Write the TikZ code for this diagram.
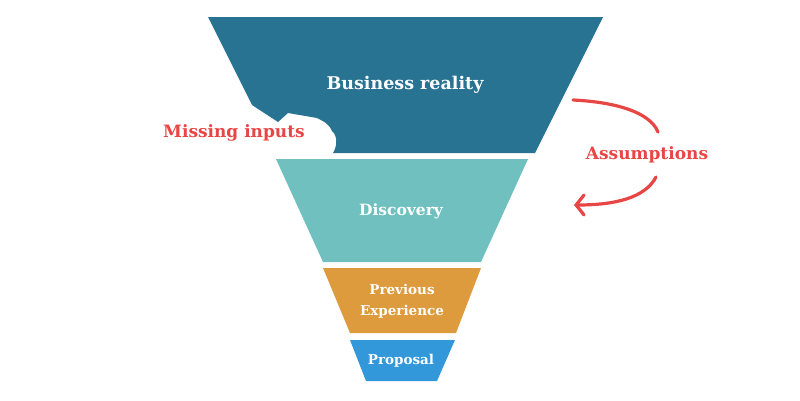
\documentclass[tikz,border=0pt]{standalone}
\usepackage{fontspec}
\setmainfont{DejaVu Serif}
\usetikzlibrary{arrows.meta}
\definecolor{c1}{HTML}{287292}
\definecolor{c2}{HTML}{70C0C0}
\definecolor{c3}{HTML}{DD9B3E}
\definecolor{c4}{HTML}{3398DA}
\definecolor{rd}{HTML}{E84545}
\begin{document}
\begin{tikzpicture}[x=1pt,y=-1pt,
  lab/.style={text=white,font=\bfseries,align=center},
  red/.style={text=rd,font=\bfseries\fontsize{17}{20}\selectfont},
  arr/.style={draw=rd,line width=3.2pt,line cap=round}]
\useasboundingbox (0,0) rectangle (800,400);
\fill[c1] (208,17) -- (603,17) -- (535,153) -- (333,153)
  .. controls (338,145) and (337,135) .. (332,131)
  .. controls (330,125) and (325,122) .. (317,118)
  -- (288,113) -- (278,122) -- (252,105) -- cycle;
\fill[c2] (276,159) -- (528,159) -- (481,262) -- (323,262) -- cycle;
\fill[c3] (323,268) -- (481,268) -- (456,333) -- (350,333) -- cycle;
\fill[c4] (350,340) -- (455,340) -- (437,381) -- (366,381) -- cycle;
\node[lab,font=\bfseries\fontsize{17.5}{20}\selectfont] (b) at (405,85) {Business reality};
\node[lab,font=\bfseries\fontsize{15.5}{18}\selectfont] (d) at (401,211) {Discovery};
\node[lab,font=\bfseries\fontsize{13.5}{21}\selectfont] (p) at (402,301) {Previous\\Experience};
\node[lab,font=\bfseries\fontsize{13.5}{16}\selectfont] (q) at (401,361) {Proposal};
\node[red] (m) at (234,133) {Missing inputs};
\node[red] (a) at (647,155) {Assumptions};
\coordinate (a1) at (573,100);
\coordinate (a2) at (658,132);
\coordinate (a3) at (656,177);
\coordinate (a4) at (574,205);
\draw[arr] (a1) .. controls (615,102) and (650,112) .. (a2);
\draw[arr,-{Straight Barb[length=8pt,width=20pt,line cap=round]}] (a3) .. controls (645,198) and (615,205) .. (a4);
\end{tikzpicture}
\end{document}
